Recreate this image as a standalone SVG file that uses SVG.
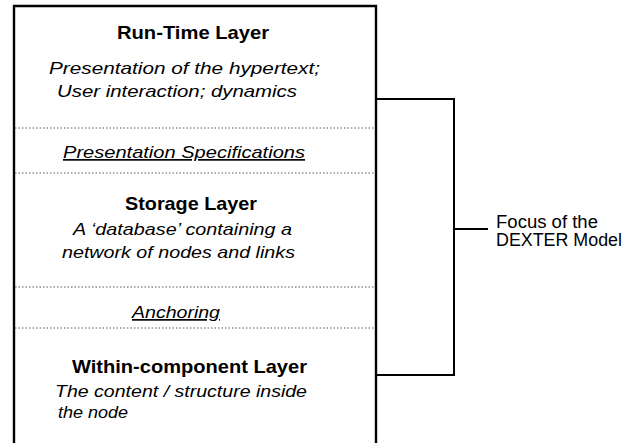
<svg xmlns="http://www.w3.org/2000/svg" width="637" height="443" viewBox="0 0 637 443">
  <style>
    text { font-family: "Liberation Sans", Arial, sans-serif; fill: #000; }
    .title { font-size: 19px; font-weight: bold; }
    .desc { font-size: 17px; font-style: italic; }
    .iface { font-size: 17px; font-style: italic; text-decoration: underline; }
    .note { font-size: 17.5px; }
    .frame { fill: none; stroke: #000; stroke-width: 2.4; }
    .divider { fill: none; stroke: #555; stroke-width: 1; stroke-dasharray: 1.5 2; }
    .bracket { fill: none; stroke: #000; stroke-width: 2; }
  </style>

  <rect width="637" height="443" fill="#fff"/>

  <!-- outer frame of the layer stack (open at the bottom) -->
  <g id="frame">
    <path class="frame" d="M14,443 V6 H376 V443"/>
  </g>

  <!-- layer separators -->
  <g id="dividers">
    <line class="divider" x1="15" y1="128" x2="375" y2="128"/>
    <line class="divider" x1="15" y1="173" x2="375" y2="173"/>
    <line class="divider" x1="15" y1="287" x2="375" y2="287"/>
    <line class="divider" x1="15" y1="328" x2="375" y2="328"/>
  </g>

  <g id="runtime-layer">
    <text class="title" x="117" y="38.5" textLength="152" lengthAdjust="spacingAndGlyphs">Run-Time Layer</text>
    <text class="desc" x="49" y="73.5" textLength="271" lengthAdjust="spacingAndGlyphs">Presentation of the hypertext;</text>
    <text class="desc" x="57" y="97" textLength="240" lengthAdjust="spacingAndGlyphs">User interaction; dynamics</text>
  </g>

  <g id="presentation-specifications">
    <text class="iface" x="63" y="158" textLength="242" lengthAdjust="spacingAndGlyphs">Presentation  Specifications</text>
  </g>

  <g id="storage-layer">
    <text class="title" x="125" y="209.5" textLength="132" lengthAdjust="spacingAndGlyphs">Storage Layer</text>
    <text class="desc" x="73" y="235" textLength="219" lengthAdjust="spacingAndGlyphs">A ‘database’ containing a</text>
    <text class="desc" x="62" y="258" textLength="233" lengthAdjust="spacingAndGlyphs">network of nodes and links</text>
  </g>

  <g id="anchoring">
    <text class="iface" x="132" y="318" textLength="88" lengthAdjust="spacingAndGlyphs">Anchoring</text>
  </g>

  <g id="within-component-layer">
    <text class="title" x="72" y="373" textLength="235" lengthAdjust="spacingAndGlyphs">Within-component Layer</text>
    <text class="desc" x="55" y="396.5" textLength="252" lengthAdjust="spacingAndGlyphs">The content / structure inside</text>
    <text class="desc" x="58" y="418" textLength="70" lengthAdjust="spacingAndGlyphs">the node</text>
  </g>

  <!-- bracket spanning the runtime and storage layers -->
  <g id="connectors">
    <path class="bracket" d="M376,99 H454 V375 H376"/>
    <line class="bracket" x1="454" y1="229" x2="488" y2="229"/>
  </g>

  <g id="dexter-focus">
    <text class="note" x="496" y="227.5" textLength="102" lengthAdjust="spacingAndGlyphs">Focus of the</text>
    <text class="note" x="496" y="246" textLength="126" lengthAdjust="spacingAndGlyphs">DEXTER Model</text>
  </g>
</svg>
